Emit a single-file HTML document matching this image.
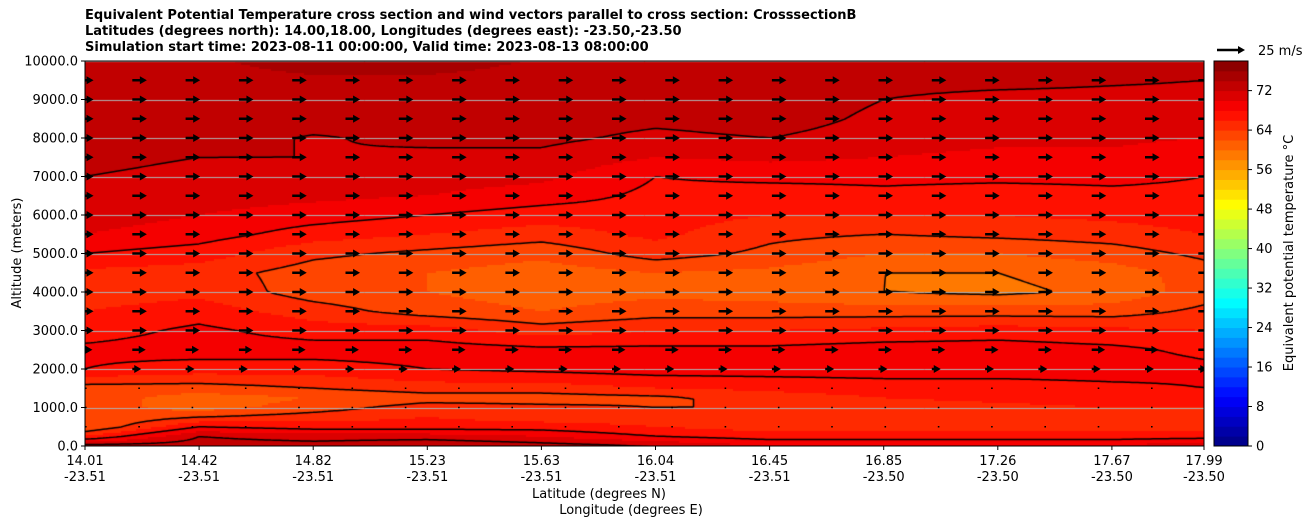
<!DOCTYPE html>
<html><head><meta charset="utf-8"><style>
body{margin:0;background:#fff;font-family:"DejaVu Sans",sans-serif;}
#wrap{position:relative;width:1308px;height:526px;overflow:hidden;}
.t{position:absolute;font-size:13px;color:#000;white-space:nowrap;}
</style></head><body>
<div id="wrap">
<div class="t" style="left:85px;top:8px;font-weight:bold;line-height:16px">Equivalent Potential Temperature cross section and wind vectors parallel to cross section: CrosssectionB<br>Latitudes (degrees north): 14.00,18.00, Longitudes (degrees east): -23.50,-23.50<br>Simulation start time: 2023-08-11 00:00:00, Valid time: 2023-08-13 08:00:00</div>
<canvas id="cv" width="1119" height="385" style="position:absolute;left:85px;top:61px"></canvas>
<svg id="sv" width="1308" height="526" style="position:absolute;left:0;top:0"></svg>
</div>
<script>
const lats=["14.01","14.42","14.82","15.23","15.63","16.04","16.45","16.85","17.26","17.67","17.99"];
const lons=["-23.51","-23.51","-23.51","-23.51","-23.51","-23.51","-23.51","-23.50","-23.50","-23.50","-23.50"];
const alts=[0,250,500,750,1000,1250,1500,2000,2500,3000,3500,4000,4500,5000,5500,6000,6500,7000,7500,8000,8500,9000,9500,10000];
const c0=[73,66,62,62,63,63,63,68,68.5,67,66,65,65.5,68,70,71,71.5,72,72.5,72.5,73,73.5,73.5,73.8];
const c1=[73,72,68,64,61,61,63,67,69,68.5,67,65.5,65,67,69,70,71,71.5,72,73,73.2,73.5,73.6,73.8];
const c2=[73,71,67,65,63,62,64,67,69,67,65,63,63,64.5,67,69,70.5,71.5,72,71.8,73,73.5,73.8,74.5];
const c3=[74,71,67,66,65,63,65,68,69,67,63,62,62,63.5,66,68,70,71,71.5,72.5,73,73.5,73.8,74.5];
const c4=[73,70,67,65,64.5,63,65,68.5,68.5,65,62,61,61,62.5,65,67,69,70.5,71.5,72.5,73,73.4,73.6,73.9];
const c5=[72,68,66,65,64,63.5,66,69,68.5,66,63,61.5,62,65,66.5,67,67.5,68,70,71.5,72.5,73,73.4,73.8];
const c6=[70,67,65,65,64,65,66.5,69,68.5,66,63,61,61.5,63.5,64.5,66,67,68.5,70.5,72,73,73.3,73.5,73.8];
const c7=[70,67,65,65,65,66,67,69,69,66.5,63,60,60,62,64,66,67.5,68.5,70,71,71.5,72,72.5,73.5];
const c8=[70,67,65,64,65.5,66.5,67,69,69,67,63,59.5,60,62,64.5,66,67,68.5,69.5,70.5,71,71.5,72.5,73.5];
const c9=[70,67,65,64,66,67,67.5,69,68.5,66.5,63,60.5,61,63,65,66.5,67.5,68.5,69.5,70.5,71,71.5,72.2,73.5];
const c10=[72,67,65,64,66,67,68,68.5,67.5,66,64.5,63,63,64.5,66,67,67.5,68,68.5,70,71,71.5,72,73.5];
const cols=[c0,c1,c2,c3,c4,c5,c6,c7,c8,c9,c10];
const windAlt=[0,500,1000,1500,2000,2500,3000,3500,4000,4500,5000,5500,6000,6500,7000,7500,8000,8500,9000,9500,10000];
const windU=[0,0.3,0.3,0.4,8,12,13,13,13,13,13,13,13,13,13,13,13,13,13,13,13];
const cbTicks=[0,8,16,24,32,40,48,56,64,72];
const yTicks=[0,1000,2000,3000,4000,5000,6000,7000,8000,9000,10000];
const contourLevels=[60,64,68,72];

const X0=85,X1=1204,Y0=446,Y1=61,TS=114.1;
const xs=i=>i===lats.length-1?X1:X0+TS*i;
const ys=a=>Y0-(Y0-Y1)*a/10000;
function jet(x){x=Math.max(0,Math.min(1,x));
 const f=(v)=>Math.max(0,Math.min(1,v));
 const r=f(1.5-Math.abs(4*x-3)),g=f(1.5-Math.abs(4*x-2)),b=f(1.5-Math.abs(4*x-1));
 return `rgb(${Math.round(r*255)},${Math.round(g*255)},${Math.round(b*255)})`;}
const VMAX=78;
function lvlColor(v){let b=Math.floor(v/2);b=Math.max(0,Math.min(38,b));return jet((b*2+1)/VMAX);}
function colPos(i){return xs(i)-X0;}
function val(px,py){
 let i=0;while(i<lats.length-2&&colPos(i+1)<px)i++;
 const tx=Math.max(0,Math.min(1,(px-colPos(i))/(colPos(i+1)-colPos(i))));
 const a=(Y0-Y1-py)/(Y0-Y1)*10000;let j=0;while(j<alts.length-2&&alts[j+1]<a)j++;
 const ty=Math.max(0,Math.min(1,(a-alts[j])/(alts[j+1]-alts[j])));
 const v00=cols[i][j],v10=cols[i+1][j],v01=cols[i][j+1],v11=cols[i+1][j+1];
 return (v00*(1-tx)+v10*tx)*(1-ty)+(v01*(1-tx)+v11*tx)*ty;}
const cv=document.getElementById('cv'),ctx=cv.getContext('2d');
const W=1119,H=385,dx=3,dy=2;
const nx=Math.ceil(W/dx)+1,ny=Math.ceil(H/dy)+1;const G=[];
for(let j=0;j<ny;j++){G[j]=[];for(let i=0;i<nx;i++)G[j][i]=val(Math.min(W,i*dx),Math.min(H,j*dy));}
for(let j=0;j<ny-1;j++)for(let i=0;i<nx-1;i++){const v=(G[j][i]+G[j+1][i+1]+G[j][i+1]+G[j+1][i])/4;ctx.fillStyle=lvlColor(v);ctx.fillRect(i*dx,j*dy,dx+0.6,dy+0.6);}
ctx.strokeStyle='#000';ctx.lineWidth=1.5;ctx.beginPath();
for(const L of contourLevels){for(let j=0;j<ny-1;j++)for(let i=0;i<nx-1;i++){
 const p=[[i*dx,j*dy,G[j][i]],[(i+1)*dx,j*dy,G[j][i+1]],[(i+1)*dx,(j+1)*dy,G[j+1][i+1]],[i*dx,(j+1)*dy,G[j+1][i]]];
 const pts=[];for(let k=0;k<4;k++){const a=p[k],b=p[(k+1)%4];if((a[2]<L)!==(b[2]<L)){const t=(L-a[2])/(b[2]-a[2]);pts.push([a[0]+t*(b[0]-a[0]),a[1]+t*(b[1]-a[1])]);}}
 for(let k=0;k+1<pts.length;k+=2){ctx.moveTo(pts[k][0],pts[k][1]);ctx.lineTo(pts[k+1][0],pts[k+1][1]);}}}
ctx.stroke();
ctx.strokeStyle='#b0b0b0';ctx.lineWidth=1;
for(const t of yTicks){const y=Math.round(ys(t)-Y1)+0.5;ctx.beginPath();ctx.moveTo(0,y);ctx.lineTo(W,y);ctx.stroke();}

const sv=document.getElementById('sv');const NS='http://www.w3.org/2000/svg';
function mk(tag,at,txt){const e=document.createElementNS(NS,tag);for(const k in at)e.setAttribute(k,at[k]);if(txt!==undefined)e.textContent=txt;sv.appendChild(e);return e;}
function arrow(x,y,len){const sw=1.2,hw=4,hl=Math.min(len,7);
 return `M${x},${y-sw}L${x+len-hl},${y-sw}L${x+len-hl},${y-hw}L${x+len},${y}L${x+len-hl},${y+hw}L${x+len-hl},${y+sw}L${x},${y+sw}Z`;}
const PX25=28;
const cp=mk('clipPath',{id:'pc'});
const cr=document.createElementNS(NS,'rect');
cr.setAttribute('x',X0);cr.setAttribute('y',Y1);cr.setAttribute('width',X1-X0);cr.setAttribute('height',Y0-Y1);
cp.appendChild(cr);
let ad='';
for(let r=1;r<windAlt.length-1;r++){const y=ys(windAlt[r]);const len=windU[r]/25*PX25;
 for(let c=0;c<22;c++){const x=79+c*53.3;
  if(len<2){ad+=`M${x+6},${y-0.8}h1.6v1.6h-1.6Z`;}else ad+=arrow(x,y,len);}}
const ap=mk('path',{d:ad,fill:'#000','clip-path':'url(#pc)'});


const fr=mk('rect',{x:X0,y:Y1,width:X1-X0,height:Y0-Y1,fill:'none',stroke:'#000','stroke-width':1});


const FF='DejaVu Sans';
for(const t of yTicks){const y=ys(t);mk('line',{x1:X0-4,x2:X0,y1:y,y2:y,stroke:'#000'});
 const tx=mk('text',{x:X0-7,y:y+4.5,'text-anchor':'end','font-size':13,'font-family':FF},t.toFixed(1));
 
 }
for(let i=0;i<lats.length;i++){const x=xs(i);mk('line',{x1:x,x2:x,y1:Y0,y2:Y0+4,stroke:'#000'});
 const a=mk('text',{x:x,y:465,'text-anchor':'middle','font-size':13,'font-family':FF},lats[i]);
 
 
 const b=mk('text',{x:x,y:481,'text-anchor':'middle','font-size':13,'font-family':FF},lons[i]);
 
 }
const xl=mk('text',{x:599,y:498,'text-anchor':'middle','font-size':13,'font-family':FF},'Latitude (degrees N)');


const xl2=mk('text',{x:631,y:514,'text-anchor':'middle','font-size':13,'font-family':FF},'Longitude (degrees E)');


const yl=mk('text',{x:0,y:0,'text-anchor':'middle','font-size':13,'font-family':FF,transform:'translate(21,253) rotate(-90)'},'Altitude (meters)');


const CB0=1214,CB1=1248,cby=v=>Y0-(Y0-Y1)*v/VMAX;
for(let v=0;v<VMAX;v+=2){const r=mk('rect',{x:CB0,y:cby(v+2),width:CB1-CB0,height:cby(v)-cby(v+2)+0.5,fill:jet((v+1)/VMAX)});
 
 }
mk('rect',{x:CB0,y:Y1,width:CB1-CB0,height:Y0-Y1,fill:'none',stroke:'#000'});
for(const t of cbTicks){const y=cby(t);mk('line',{x1:CB1,x2:CB1+4,y1:y,y2:y,stroke:'#000'});
 const c=mk('text',{x:CB1+8,y:y+4.5,'font-size':13,'font-family':FF},String(t));
 
 }
const cl=mk('text',{x:0,y:0,'text-anchor':'middle','font-size':13,'font-family':FF,transform:'translate(1293,253) rotate(-90)'},'Equivalent potential temperature °C');


const qk=mk('path',{d:arrow(1217,50,PX25),fill:'#000'});


const qt=mk('text',{x:1258,y:55,'font-size':13,'font-family':FF},'25 m/s');


</script>
</body></html>
